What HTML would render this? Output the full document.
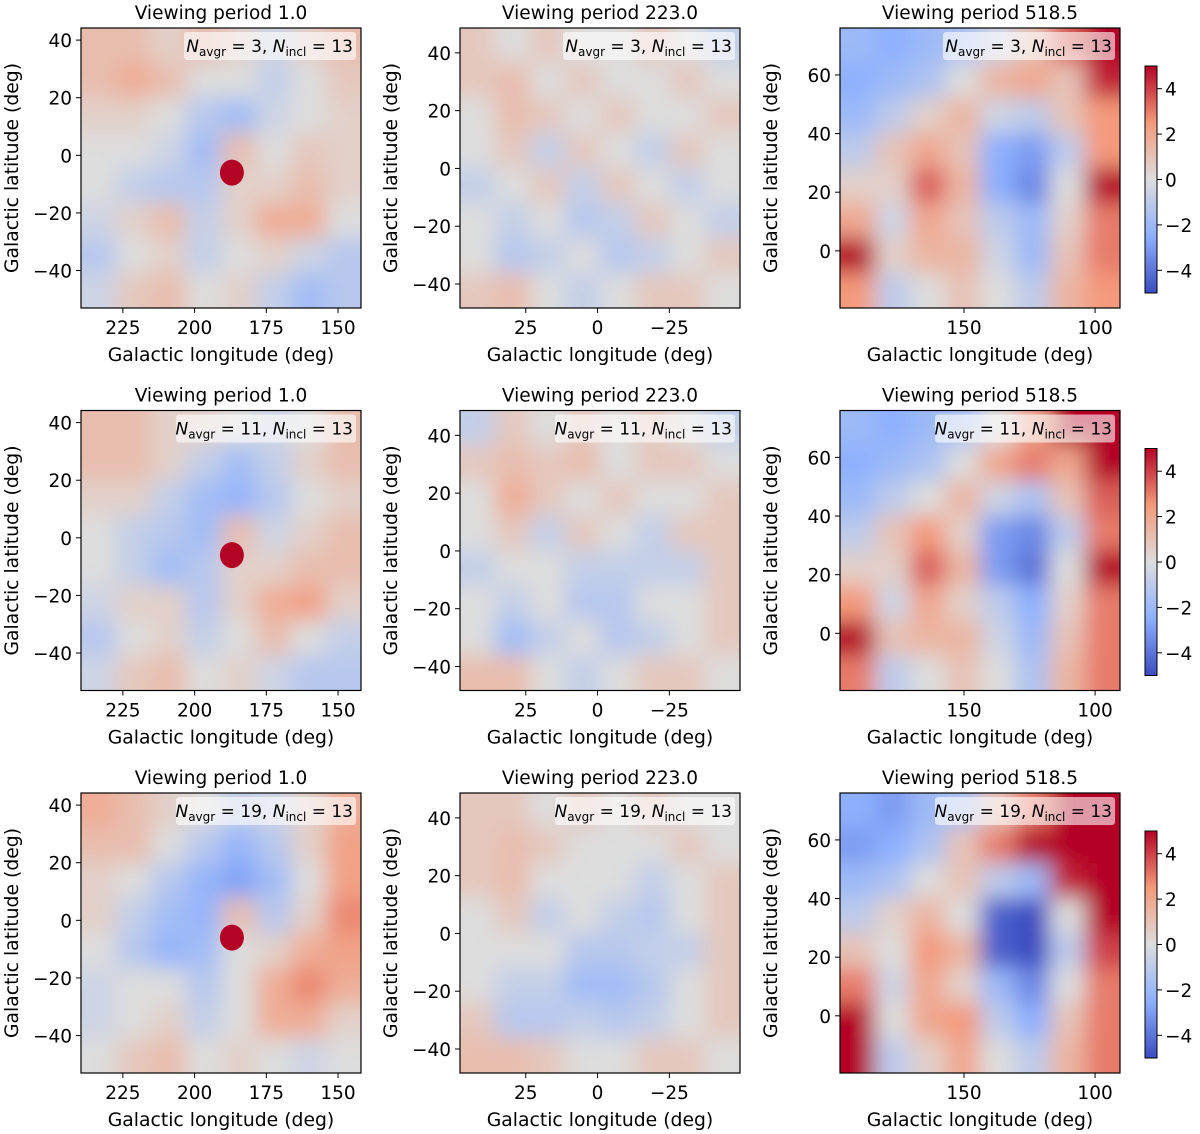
<!DOCTYPE html>
<html><head><meta charset="utf-8"><style>
html,body{margin:0;padding:0;background:#fff;}
svg{display:block;font-family:"DejaVu Sans","Liberation Sans",sans-serif;}
</style></head><body>
<svg id="fig" width="1200" height="1134" viewBox="0 0 1200 1134" xmlns="http://www.w3.org/2000/svg">
<defs>
<filter id="blur" x="0" y="0" width="1" height="1" filterUnits="objectBoundingBox"><feGaussianBlur stdDeviation="11"/></filter>
<linearGradient id="cmapGrad" x1="0" y1="1" x2="0" y2="0">
<stop offset="0" stop-color="#3b4cc0"/><stop offset="0.25" stop-color="#8db0fe"/><stop offset="0.5" stop-color="#dddddd"/><stop offset="0.75" stop-color="#f49a7b"/><stop offset="1" stop-color="#b40426"/>
</linearGradient>
</defs>
</svg>
<script>
// ---- data ----
const periods = ["1.0","223.0","518.5"];
const navgr = [3, 11, 19];
const nincl = 13;
const colXTicks = [[225,200,175,150],[25,0,-25],[150,100]];
const colYTicks = [[40,20,0,-20,-40],[40,20,0,-20,-40],[60,40,20,0]];
const colXRange = [[239.6,142],[47.9,-49.6],[197.3,90.5]];
const colYRange = [[44.2,-53],[48.6,-48.3],[76,-19.5]];
const cbarTicks = [4,2,0,-2,-4];
const sourceLon = 187, sourceLat = -6, sourceValue = 5;
const p1r1 = [[1.2,1.2,0.5,1.2,0.5,-0.5,0.5,1.2],[1.2,1.8,1.2,0,0,-0.8,0,0.8],[0.5,0.5,0,-1.2,-1.8,-0.5,0,0.5],[0,0,-0.5,-1.8,1.2,0,0.8,0.5],[0,-0.8,-1.2,-1.2,0.5,0.5,1.2,0.5],[-0.5,0.5,1.2,-0.8,0.5,1.8,1.8,0],[-1.2,0,0.5,-0.8,0,0.5,-0.5,-1.2],[-0.5,0.8,1.2,0,0.5,-0.8,-1.8,-1.2]];
const p1r2 = [[1.2,1.2,0.5,0.5,0,-0.5,0,1.2],[1.2,1.2,0.5,-0.8,-1.8,-0.8,0.5,1.2],[0.5,0.5,-0.8,-1.8,-2.2,-1.2,0,0.5],[0,-0.8,-1.2,-1.8,1.2,-0.5,0.5,1.2],[0,-0.8,-1.8,-1.2,0.5,0.5,1.2,1.2],[-0.5,0.5,0.5,-1.2,0.5,1.8,2.2,0.5],[-1.2,0,0.5,-0.8,0,1.2,0,-0.8],[-0.5,0.8,1.2,0,0.5,-0.5,-1.2,-1.2]];
const p1r3 = [[1.8,1.2,0.5,0,-0.8,-0.5,0.5,1.8],[1.2,1.2,0,-1.2,-2.2,-1.2,0.5,2.2],[0.5,0,-1.2,-2.2,-2.8,-1.8,0,2.2],[0.5,-0.8,-1.8,-2.2,1.2,-1.2,0.5,2.8],[0,-1.2,-2.2,-1.8,0,0.5,1.8,2.2],[-0.5,0,0,-1.2,0,1.8,2.8,1.8],[-0.5,0,0.5,-0.8,0,1.8,1.8,0.5],[0,0.8,1.2,0,0.5,0,-0.5,0]];
const p2r1 = [[0.8,0,0.8,0,0,0.8,0,-0.8],[0.8,1.2,0,0.8,0,0,0.8,0],[0,1.2,0.8,0,0.8,0,0,0.8],[0,0.8,-0.8,0.8,0,-0.8,0.8,0],[-0.8,0,0.8,-0.8,0.8,0,-0.8,0],[0,-0.8,0,-1.2,-0.8,0.8,0,-0.8],[0,-1.2,-0.8,0,-1.2,-0.8,0,0.8],[0.8,1.2,0,-0.8,0,0.8,0.8,0]];
const p2r2 = [[-0.8,0.8,0,0.8,0,0.8,0,-0.8],[0.8,1.2,0.8,1.2,0,0.8,0.8,0],[0,1.8,0.8,0,0.8,0,0,0.8],[0,0.8,-0.8,0.8,0,-0.8,0.8,0.8],[-0.8,0,0,-0.8,-0.8,-0.8,-0.8,0.8],[0,-0.8,0,-1.2,-1.2,0,0,0.8],[0,-1.8,-0.8,0,-1.2,-0.8,0,0.8],[1.2,1.2,0,-0.8,0,0.8,0.8,0]];
const p2r3 = [[0.8,0.8,0,0.8,0,0.8,0,0],[0.8,1.2,0.8,0,0,0,0.8,0],[0.8,1.2,0,0,0,-0.8,0,0.8],[0,0.8,-0.8,0,-0.8,-1.2,0,0.8],[0,0,0,-1.2,-1.2,-0.8,-0.8,0.8],[0,-0.8,-0.8,-1.8,-1.8,-1.2,0,0.8],[0.8,-1.2,-1.2,-0.8,-1.2,-0.8,0,0.8],[1.2,1.2,0.8,0,0,0.8,0.8,0]];
const p3r1 = [[-2,-2.5,-2,-1.5,-0.5,1,3.5,5],[-2.5,-2,-1.5,0,1.5,2,1,4.5],[-2,-1,0.5,1.5,-0.5,-1,1,2.5],[-1,1,2,1,-2.5,-3,-1,2.5],[0.5,0.5,3.5,1.5,-2.5,-3.5,0,5],[2,-0.5,2,1,-1,-2,0.5,3],[5,0.5,1.5,1.5,-0.5,-2,1,3],[2.5,-1,0,1,0,-1,1.5,2.5]];
const p3r2 = [[-2,-2.5,-2,-1.5,0,2,5,5],[-2.5,-2,-1.5,0,2,3,2,5],[-2,-1,0,1.5,-0.5,-1.5,1,3.5],[-1,1,2.5,0.5,-3,-3.5,-1,3],[0.5,0.5,3.5,1.5,-3,-4,0,5],[2.5,-0.5,2,0.5,-1,-2.5,0.5,3],[5,1,1.5,1.5,-0.5,-2,1,3],[3,-1,0,1,0,-1.5,1.5,3]];
const p3r3 = [[-2.5,-3,-2,-1.5,1,3,5,5],[-3,-2.5,-1.5,1,3,5,5,5],[-2,-1.5,0,1,-1,-2,4.5,5],[-1,0.5,1.5,0,-4.5,-5,0,5],[1,0,2.5,1.5,-4.5,-5,-1,4],[3,-0.5,2,0.5,-2,-3.5,0,3],[5,0,2,2.5,-1,-2.5,1,3],[5,-1,0.5,2,0,-1,1.5,3]];
const grids = [[p1r1,p2r1,p3r1],[p1r2,p2r2,p3r2],[p1r3,p2r3,p3r3]];

// ---- layout ----
const NS = "http://www.w3.org/2000/svg";
const svg = document.getElementById('fig');
const colX = [81, 460, 840], PW = 280, PH = 280;
const rowY = [28, 410.5, 793];
const stops = [[-5,[59,76,192]],[-2.5,[141,176,254]],[0,[221,221,221]],[2.5,[244,154,123]],[5,[180,4,38]]];
function cmap(v){
  v = Math.max(-5, Math.min(5, v));
  for (let i=0;i<stops.length-1;i++){
    const [a,ca]=stops[i],[b,cb]=stops[i+1];
    if (v<=b){const t=(v-a)/(b-a);return 'rgb('+ca.map((c,k)=>Math.round(c+(cb[k]-c)*t)).join(',')+')';}
  }
  return 'rgb(180,4,38)';
}
function mk(tag, attrs, parent){const e=document.createElementNS(NS,tag);for(const k in attrs)e.setAttribute(k,attrs[k]);(parent||svg).appendChild(e);return e;}
function txt(s, attrs, parent){const e=mk('text',attrs,parent);e.textContent=s;return e;}

for (let r=0;r<3;r++) for (let c=0;c<3;c++){
  const x0=colX[c], y0=rowY[r];
  const [lx0,lx1]=colXRange[c], [ly0,ly1]=colYRange[c];
  const sx = v => x0 + (v-lx0)/(lx1-lx0)*PW;
  const sy = v => y0 + (v-ly0)/(ly1-ly0)*PH;
  const g = mk('g',{});
  
  
  const cid='clip'+r+c;
  const cp=mk('clipPath',{id:cid},g); mk('rect',{x:x0,y:y0,width:PW,height:PH},cp);
  const hm=mk('g',{'clip-path':'url(#'+cid+')'},g);
  
  
  const grid=grids[r][c], nr=grid.length, nc=grid[0].length;
  const bl=mk('g',{filter:'url(#blur)'},hm);
  const pad=30;
  mk('rect',{x:x0-pad,y:y0-pad,width:PW+2*pad,height:PH+2*pad,fill:'none'},bl);
  const cw=PW/nc, ch=PH/nr;
  for(let i=0;i<nr;i++)for(let j=0;j<nc;j++){
    let x=x0+j*cw,y=y0+i*ch,w=cw+0.5,h=ch+0.5;
    if(j===0){x-=pad;w+=pad;} if(j===nc-1){w+=pad;}
    if(i===0){y-=pad;h+=pad;} if(i===nr-1){h+=pad;}
    const cell=mk('rect',{x:x,y:y,width:w,height:h,fill:cmap(grid[i][j])},bl);
    
    
  }
  if(c===0){
    const s=mk('ellipse',{cx:sx(sourceLon),cy:sy(sourceLat),rx:12,ry:13,fill:cmap(sourceValue)},hm);
    
    
  }
  // legend
  const lg=mk('g',{},g);
  
  
  const lw = navgr[r]>=10?180:172;
  mk('rect',{x:x0+PW-5-lw,y:y0+4,width:lw,height:28,rx:3,fill:'#ffffff','fill-opacity':0.6},lg);
  const t=mk('text',{x:x0+PW-8,y:y0+24,'text-anchor':'end','font-size':17,fill:'#000'},lg);
  t.innerHTML='<tspan font-style="italic">N</tspan><tspan font-size="12" dy="4">avgr</tspan><tspan dy="-4"> = '+navgr[r]+', </tspan><tspan font-style="italic">N</tspan><tspan font-size="12" dy="4">incl</tspan><tspan dy="-4"> = '+nincl+'</tspan>';
  // frame
  mk('rect',{x:x0,y:y0,width:PW,height:PH,fill:'none',stroke:'#000','stroke-width':1.2},g);
  // ticks
  colXTicks[c].forEach(v=>{const x=sx(v);
    mk('line',{x1:x,x2:x,y1:y0+PH,y2:y0+PH+5,stroke:'#000'},g);
    const tl=txt(String(v).replace('-','\u2212'),{x:x,y:y0+PH+26,'text-anchor':'middle','font-size':18.5},g);
    
    
  });
  colYTicks[c].forEach(v=>{const y=sy(v);
    mk('line',{x1:x0-5,x2:x0,y1:y,y2:y,stroke:'#000'},g);
    const tl=txt(String(v).replace('-','\u2212'),{x:x0-9,y:y+7,'text-anchor':'end','font-size':18.5},g);
    
    
  });
  const ti=txt('Viewing period '+periods[c],{x:x0+PW/2,y:y0-9,'text-anchor':'middle','font-size':18.5},g);
  
  
  const xl=txt('Galactic longitude (deg)',{x:x0+PW/2,y:y0+PH+53,'text-anchor':'middle','font-size':18.8},g);
  
  
  const yx=x0-63, yy=y0+PH/2;
  const yl=txt('Galactic latitude (deg)',{x:yx,y:yy,'text-anchor':'middle','font-size':18.8,transform:'rotate(-90 '+yx+' '+yy+')'},g);
  
  
  if(c===2){
    const cb=mk('g',{},g);
    
    
    const cy0=y0+38, chh=227, cx=1145;
    mk('rect',{x:cx,y:cy0,width:12,height:chh,fill:'url(#cmapGrad)',stroke:'#000','stroke-width':1},cb);
    cbarTicks.forEach(v=>{const y=cy0+(5-v)/10*chh;
      mk('line',{x1:cx+12,x2:cx+17,y1:y,y2:y,stroke:'#000'},cb);
      const tl=txt(String(v).replace('-','\u2212'),{x:cx+20,y:y+7,'font-size':18.5},cb);
      
      
    });
  }
}
</script>
</body></html>
